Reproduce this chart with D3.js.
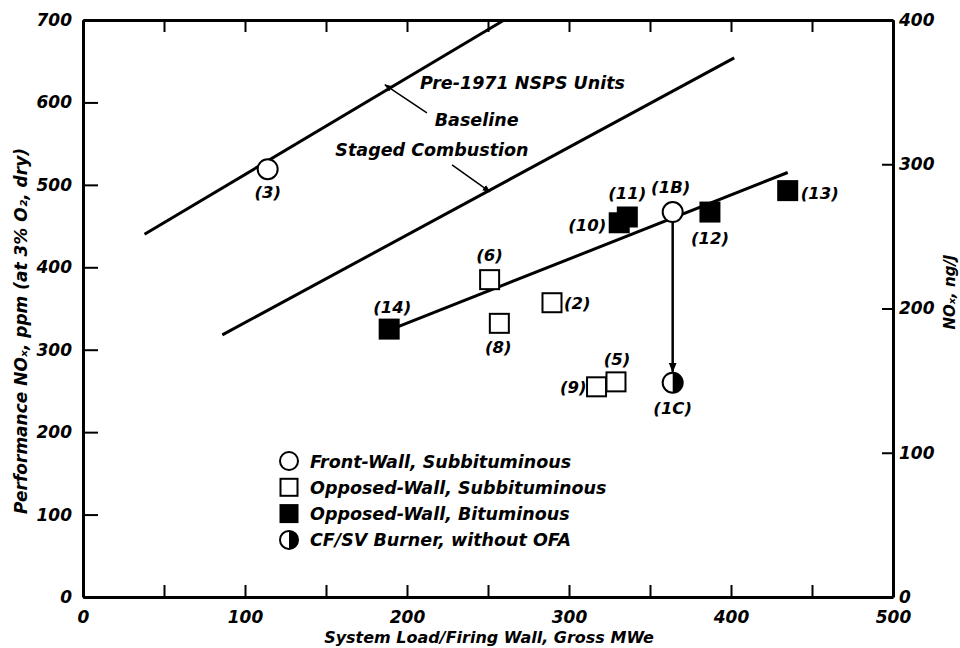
<!DOCTYPE html>
<html>
<head>
<meta charset="utf-8">
<script src="https://cdn.jsdelivr.net/npm/d3@7"></script>
<style>
  body { margin: 0; background: #fff; }
  svg text { font-family: "DejaVu Sans", "Liberation Sans", Arial, sans-serif; font-weight: bold; font-style: oblique; fill: #000; }
</style>
</head>
<body>
<div id="chart"></div>
<script>

// data: [MWe, NOx ppm]
var frontWallSub = [
  {id: "3",  mw: 114, nox: 519},
  {id: "1B", mw: 364, nox: 467}
];
var opposedSub = [
  {id: "6", mw: 251, nox: 385},
  {id: "8", mw: 257, nox: 332},
  {id: "2", mw: 289.5, nox: 357},
  {id: "9", mw: 317, nox: 255},
  {id: "5", mw: 329, nox: 261}
];
var opposedBit = [
  {id: "14", mw: 189, nox: 325},
  {id: "10", mw: 331, nox: 454},
  {id: "11", mw: 336, nox: 461},
  {id: "12", mw: 387, nox: 467},
  {id: "13", mw: 435, nox: 493}
];
var cfsvNoOfa = [
  {id: "1C", mw: 364, nox: 260}
];

var baselineLine = [[38, 440], [260, 700]];
var stagedLine = [[86, 318], [402, 654]];
var trendLine = [[189.5, 324], [435, 515]];

var xTicks = d3.range(0, 501, 50);
var yTicks = d3.range(0, 701, 100);
var yRightTicks = d3.range(0, 401, 100);

var legendItems = ["Front-Wall, Subbituminous", "Opposed-Wall, Subbituminous",
                   "Opposed-Wall, Bituminous", "CF/SV Burner,  without OFA"];

// label offsets (px) from each marker
var labelPos = {
  "3":  [0, 29, "middle"],
  "1B": [-2, -19, "middle"],
  "1C": [0, 31, "middle"],
  "14": [3, -16, "middle"],
  "6":  [0, -19, "middle"],
  "8":  [-1, 30, "middle"],
  "2":  [12, 6, "start"],
  "9":  [-10, 6, "end"],
  "5":  [1, -17, "middle"],
  "10": [-13, 8, "end"],
  "11": [0, -18, "middle"],
  "12": [0, 32, "middle"],
  "13": [13, 8, "start"]
};

var W = 960, H = 648;
var svg = d3.select("#chart").append("svg")
  .attr("width", W).attr("height", H);

svg.append("rect").attr("width", W).attr("height", H).attr("fill", "#fff");

var x = d3.scaleLinear().domain([0, 500]).range([83, 893]);
var y = d3.scaleLinear().domain([0, 700]).range([597, 20]);
var yR = d3.scaleLinear().domain([0, 400]).range([597, 20]);

function styleAxis(g) {
  g.select(".domain").attr("stroke-width", 3);
  g.selectAll(".tick line").attr("stroke-width", 2);
  g.selectAll("text").attr("font-size", "17px");
}

// bottom
svg.append("g")
  .attr("transform", "translate(0," + y(0) + ")")
  .call(d3.axisBottom(x).tickValues(xTicks).tickSizeInner(-12).tickSizeOuter(0).tickPadding(10)
    .tickFormat(function(d) { return d % 100 === 0 ? d : ""; }))
  .call(styleAxis)
  .selectAll("text").attr("dy", "0.95em");

// top
svg.append("g")
  .attr("transform", "translate(0," + y(700) + ")")
  .call(d3.axisTop(x).tickValues(xTicks).tickSizeInner(-12).tickSizeOuter(0).tickFormat(""))
  .call(styleAxis);

// left
svg.append("g")
  .attr("transform", "translate(" + x(0) + ",0)")
  .call(d3.axisLeft(y).tickValues(yTicks).tickSizeInner(-15).tickSizeOuter(0).tickPadding(11))
  .call(styleAxis);

// right
svg.append("g")
  .attr("transform", "translate(" + x(500) + ",0)")
  .call(d3.axisRight(yR).tickValues(yRightTicks).tickSizeInner(-11).tickSizeOuter(0).tickPadding(6))
  .call(styleAxis);

// axis titles
svg.append("text")
  .attr("transform", "translate(" + (x(250) + 1) + ",643)")
  .attr("text-anchor", "middle")
  .attr("font-size", "16px")
  .text("System Load/Firing Wall, Gross MWe");

svg.append("text")
  .attr("transform", "translate(27,331) rotate(-90)")
  .attr("text-anchor", "middle")
  .attr("font-size", "17px")
  .text("Performance NOₓ, ppm (at 3% O₂, dry)");

svg.append("text")
  .attr("transform", "translate(955,292) rotate(-90)")
  .attr("text-anchor", "middle")
  .attr("font-size", "15px")
  .text("NOₓ, ng/J");

// lines
var line = d3.line().x(function(d) { return x(d[0]); }).y(function(d) { return y(d[1]); });
[baselineLine, stagedLine, trendLine].forEach(function(l) {
  svg.append("path").attr("d", line(l))
    .attr("fill", "none").attr("stroke", "#000").attr("stroke-width", 3);
});

// arrow markers
var defs = svg.append("defs");
defs.append("marker")
  .attr("id", "arrowhead")
  .attr("viewBox", "0 0 10 10").attr("refX", 9).attr("refY", 5)
  .attr("markerWidth", 8).attr("markerHeight", 8)
  .attr("markerUnits", "userSpaceOnUse")
  .attr("orient", "auto")
  .append("path").attr("d", "M0,1 L10,5 L0,9 z").attr("fill", "#000");
defs.append("marker")
  .attr("id", "arrowbig")
  .attr("viewBox", "0 0 10 10").attr("refX", 9).attr("refY", 5)
  .attr("markerWidth", 10).attr("markerHeight", 10)
  .attr("markerUnits", "userSpaceOnUse")
  .attr("orient", "auto")
  .append("path").attr("d", "M0,1 L10,5 L0,9 z").attr("fill", "#000");

// annotations
svg.append("line")
  .attr("x1", x(212.3)).attr("y1", y(587.4)).attr("x2", x(186.4)).attr("y2", y(621.4))
  .attr("stroke", "#000").attr("stroke-width", 1.5).attr("marker-end", "url(#arrowhead)");
svg.append("line")
  .attr("x1", x(227.8)).attr("y1", y(524.3)).attr("x2", x(251.2)).attr("y2", y(491.5))
  .attr("stroke", "#000").attr("stroke-width", 1.5).attr("marker-end", "url(#arrowhead)");

svg.append("text").attr("x", x(208)).attr("y", y(616.5))
  .attr("font-size", "17.5px").text("Pre-1971 NSPS Units");
svg.append("text").attr("x", x(243)).attr("y", y(571.6)).attr("text-anchor", "middle")
  .attr("font-size", "17.5px").text("Baseline");
svg.append("text").attr("x", x(215.4)).attr("y", y(535)).attr("text-anchor", "middle")
  .attr("font-size", "17.5px").text("Staged Combustion");

// 1B -> 1C arrow
var b = frontWallSub[1], c = cfsvNoOfa[0];
svg.append("line")
  .attr("x1", x(b.mw)).attr("y1", y(b.nox) + 10)
  .attr("x2", x(c.mw)).attr("y2", y(c.nox) - 11)
  .attr("stroke", "#000").attr("stroke-width", 2.5).attr("marker-end", "url(#arrowbig)");

// markers
var R = 10, S = 19;
function drawCircles(data, g) {
  g.selectAll("circle.open").data(data).enter().append("circle")
    .attr("cx", function(d) { return x(d.mw); })
    .attr("cy", function(d) { return y(d.nox); })
    .attr("r", R).attr("fill", "#fff").attr("stroke", "#000").attr("stroke-width", 2);
}
function drawSquares(data, g, filled) {
  g.selectAll("rect").data(data).enter().append("rect")
    .attr("x", function(d) { return x(d.mw) - S / 2; })
    .attr("y", function(d) { return y(d.nox) - S / 2; })
    .attr("width", S).attr("height", S)
    .attr("fill", filled ? "#000" : "#fff").attr("stroke", "#000").attr("stroke-width", 2);
}
function halfCircle(g, cx, cy, r) {
  g.append("circle").attr("cx", cx).attr("cy", cy).attr("r", r)
    .attr("fill", "#fff").attr("stroke", "#000").attr("stroke-width", 2);
  g.append("path")
    .attr("d", "M" + cx + "," + (cy - r) + " A" + r + "," + r + " 0 0 1 " + cx + "," + (cy + r) + " Z")
    .attr("fill", "#000");
}

drawCircles(frontWallSub, svg.append("g"));
drawSquares(opposedSub, svg.append("g"), false);
drawSquares(opposedBit, svg.append("g"), true);
var cg = svg.append("g");
cfsvNoOfa.forEach(function(d) { halfCircle(cg, x(d.mw), y(d.nox), R); });

// point labels
var allPts = frontWallSub.concat(opposedSub, opposedBit, cfsvNoOfa);
svg.append("g").selectAll("text").data(allPts).enter().append("text")
  .attr("x", function(d) { return x(d.mw) + labelPos[d.id][0]; })
  .attr("y", function(d) { return y(d.nox) + labelPos[d.id][1]; })
  .attr("text-anchor", function(d) { return labelPos[d.id][2]; })
  .attr("font-size", "16.5px")
  .text(function(d) { return "(" + d.id + ")"; });

// legend
var lg = svg.append("g").attr("transform", "translate(289,461)");
var rowH = 26.3;
legendItems.forEach(function(name, i) {
  var row = lg.append("g").attr("transform", "translate(0," + (i * rowH) + ")");
  if (i === 0) {
    row.append("circle").attr("r", 9).attr("fill", "#fff").attr("stroke", "#000").attr("stroke-width", 2);
  } else if (i === 3) {
    halfCircle(row, 0, 0, 9);
  } else {
    row.append("rect").attr("x", -8.5).attr("y", -8.5).attr("width", 17).attr("height", 17)
      .attr("fill", i === 2 ? "#000" : "#fff").attr("stroke", "#000").attr("stroke-width", 2);
  }
  row.append("text").attr("x", 21).attr("y", 6.5)
    .attr("font-size", "17.5px")
    .text(name);
});

</script>
</body>
</html>
